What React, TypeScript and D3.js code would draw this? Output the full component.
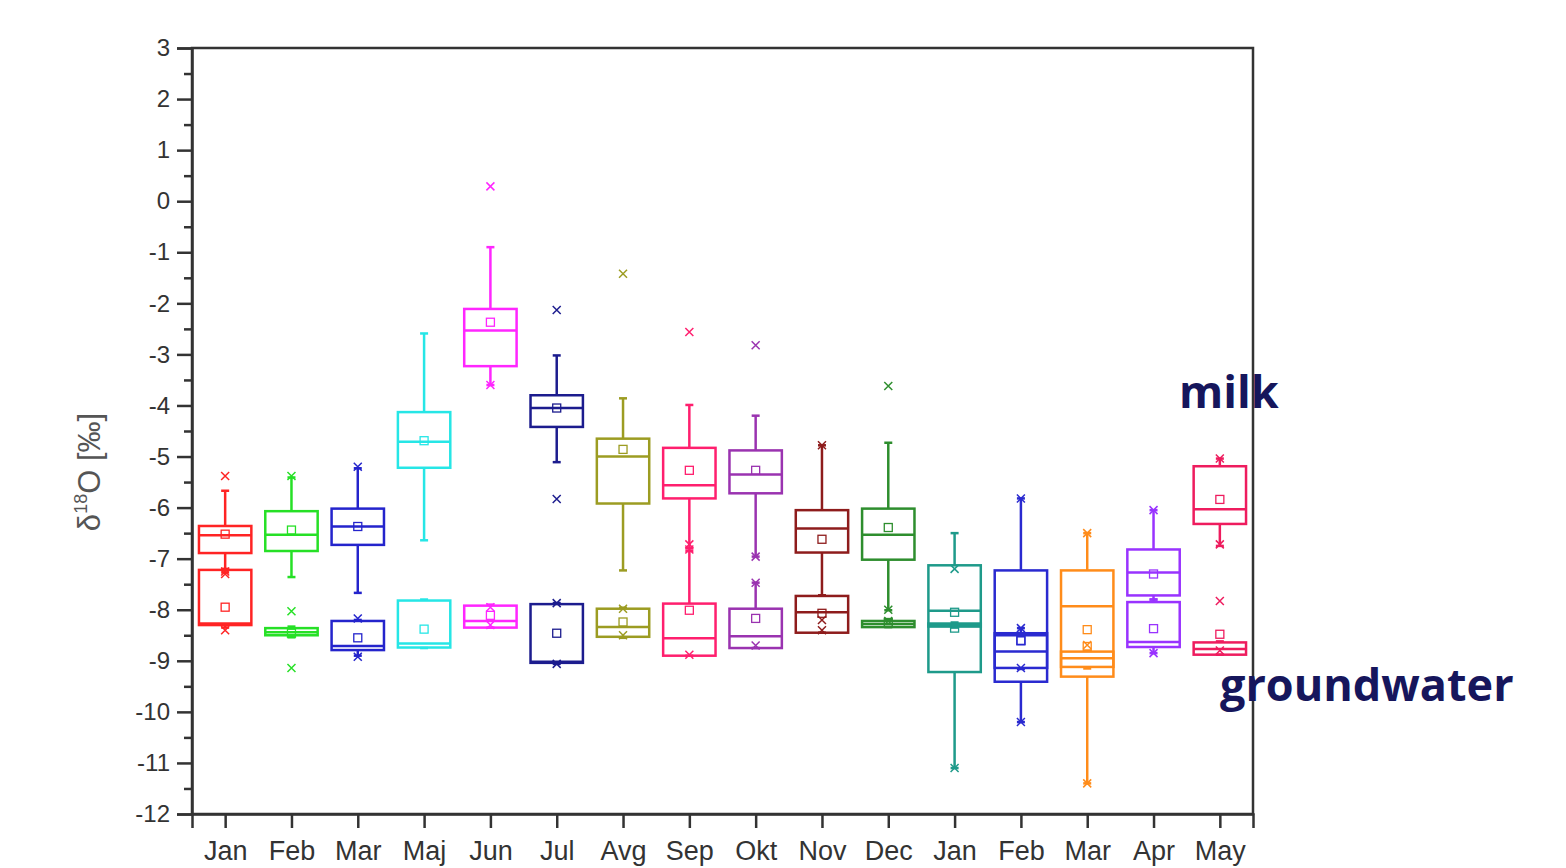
import React, { useEffect, useRef } from "react";
import * as d3 from "d3";

// month labels along the x axis (two seasons)
const months = ["Jan", "Feb", "Mar", "Maj", "Jun", "Jul", "Avg", "Sep", "Okt", "Nov", "Dec", "Jan", "Feb", "Mar", "Apr", "May"];
const colors = ["#ff2424", "#26e026", "#2424cc", "#26e6e6", "#ff26ff", "#1c1c8e", "#9c9c22", "#ff1f6e", "#9a33b0", "#8e1c1c", "#2e8e2e", "#1e9a8a", "#2a2ad0", "#ff8c1a", "#9933ff", "#ee1c5e"];

// milk boxes
const milkLow = [-7.27, -7.36, -7.67, -6.64, -3.6, -5.11, -7.23, -6.8, -6.96, -7.72, -8.01, -11.1, -10.2, -11.4, -7.8, -6.75];
const milkQ1 = [-6.89, -6.85, -6.73, -5.22, -3.23, -4.42, -5.92, -5.82, -5.72, -6.88, -7.02, -9.22, -9.41, -9.31, -7.72, -6.32];
const milkMed = [-6.54, -6.53, -6.37, -4.71, -2.53, -4.05, -5.0, -5.56, -5.35, -6.41, -6.53, -8.02, -8.5, -7.93, -7.27, -6.03];
const milkQ3 = [-6.36, -6.07, -6.02, -4.13, -2.11, -3.8, -4.65, -4.83, -4.88, -6.05, -6.02, -7.13, -7.23, -7.23, -6.82, -5.19];
const milkHigh = [-5.67, -5.41, -5.23, -2.59, -0.9, -3.02, -3.86, -3.99, -4.2, -4.78, -4.73, -6.5, -5.82, -6.5, -6.05, -5.04];
const milkMean = [-6.52, -6.44, -6.37, -4.69, -2.37, -4.05, -4.86, -5.27, -5.27, -6.62, -6.39, -8.05, -8.61, -8.39, -7.3, -5.84];
const milkCross = [[-5.38, -7.25], [-5.38], [-5.2], [], [0.29, -3.6], [-2.13, -5.83], [-1.42], [-2.56, -6.72, -6.82], [-2.82, -6.96], [-4.78], [-3.62, -8.0], [-7.2, -11.1], [-5.82, -10.2], [-6.5, -11.4], [-6.05], [-5.04, -6.72, -7.83]];

// groundwater boxes
const gwLow = [-8.35, -8.54, -8.9, -8.75, -8.35, -9.06, -8.55, -8.9, -8.75, -8.45, -8.34, -8.35, -9.16, -9.15, -8.85, -8.88];
const gwQ1 = [-8.3, -8.5, -8.79, -8.74, -8.35, -9.04, -8.53, -8.9, -8.75, -8.45, -8.34, -8.33, -9.14, -9.12, -8.73, -8.88];
const gwMed = [-8.27, -8.44, -8.71, -8.66, -8.22, -9.02, -8.34, -8.56, -8.52, -8.05, -8.28, -8.3, -8.82, -8.95, -8.63, -8.77];
const gwQ3 = [-7.22, -8.36, -8.22, -7.82, -7.92, -7.89, -7.98, -7.88, -7.98, -7.73, -8.22, -8.27, -8.46, -8.82, -7.85, -8.64];
const gwHigh = [-7.2, -8.33, -8.2, -7.8, -7.9, -7.87, -7.96, -6.85, -7.47, -7.72, -8.2, -8.25, -8.36, -8.8, -7.8, -8.62];
const gwMean = [-7.95, -8.46, -8.55, -8.38, -8.11, -8.46, -8.24, -8.01, -8.17, -8.07, -8.25, -8.36, -8.6, -8.72, -8.37, -8.48];
const gwCross = [[-7.3, -8.4], [-8.03, -9.14], [-8.17, -8.92], [], [-7.95, -8.3], [-7.87, -9.06], [-7.98, -8.5], [-8.88], [-7.47, -8.7], [-8.2, -8.4], [-8.22], [], [-8.36, -9.14], [-8.69], [-8.85], [-8.8]];

const yTicks = d3.range(-12, 4, 1);

const App = () => {
  const svgRef = useRef<SVGSVGElement>(null);

  useEffect(() => {
    const svg = d3.select(svgRef.current);
    svg.selectAll("*").remove();

    const left = 192, right = 1253, top = 48, bottom = 814;

    const x = d3.scalePoint<number>()
      .domain(d3.range(months.length))
      .range([left, right])
      .padding(0.5);
    const y = d3.scaleLinear().domain([-12, 3]).range([bottom, top]);
    const bw = x.step() * 0.79;

    const font = "'Liberation Sans', Arial, sans-serif";

    // frame
    svg.append("rect")
      .attr("x", left).attr("y", top)
      .attr("width", right - left).attr("height", bottom - top)
      .attr("fill", "none").attr("stroke", "#333").attr("stroke-width", 2.5);

    // y axis (plain hyphen minus like the original)
    const yAxis = svg.append("g")
      .attr("transform", `translate(${left},0)`)
      .call(d3.axisLeft(y).tickValues(yTicks).tickSize(15).tickPadding(7).tickFormat((d) => `${d}`));
    yAxis.select(".domain").attr("stroke", "#333").attr("stroke-width", 2.5);
    yAxis.selectAll(".tick line").attr("stroke", "#333").attr("stroke-width", 2.5);
    yAxis.selectAll(".tick text").attr("font-family", font).attr("font-size", 24).attr("fill", "#333");

    const yMinor = svg.append("g")
      .attr("transform", `translate(${left},0)`)
      .call(d3.axisLeft(y).tickValues(d3.range(-11.5, 3, 1)).tickSize(8).tickFormat(() => ""));
    yMinor.select(".domain").remove();
    yMinor.selectAll(".tick line").attr("stroke", "#333").attr("stroke-width", 2.5);

    // x axis
    const xAxis = svg.append("g")
      .attr("transform", `translate(0,${bottom})`)
      .call(d3.axisBottom(x).tickSize(14).tickPadding(13).tickFormat((i) => months[i]));
    xAxis.select(".domain").attr("stroke", "#333").attr("stroke-width", 2.5);
    xAxis.selectAll(".tick line").attr("stroke", "#333").attr("stroke-width", 2.5);
    xAxis.selectAll(".tick text").attr("font-family", font).attr("font-size", 27).attr("fill", "#333");

    // y label
    const yl = svg.append("text")
      .attr("transform", "translate(100,472) rotate(-90)")
      .attr("text-anchor", "middle")
      .attr("font-family", font).attr("font-size", 31).attr("fill", "#555");
    yl.append("tspan").text("δ");
    yl.append("tspan").attr("font-size", 18).attr("dy", -13).text("18");
    yl.append("tspan").attr("dy", 13).text("O [‰]");

    const drawBox = (i, lo, q1, med, q3, hi, mean, crosses) => {
      const cx = x(i);
      const c = colors[i];
      const g = svg.append("g").attr("stroke", c).attr("fill", "none");
      // whiskers
      g.append("line").attr("x1", cx).attr("x2", cx).attr("y1", y(hi)).attr("y2", y(q3)).attr("stroke-width", 2.5);
      g.append("line").attr("x1", cx).attr("x2", cx).attr("y1", y(q1)).attr("y2", y(lo)).attr("stroke-width", 2.5);
      [lo, hi].forEach((v) => {
        g.append("line").attr("x1", cx - 4).attr("x2", cx + 4).attr("y1", y(v)).attr("y2", y(v)).attr("stroke-width", 2.5);
      });
      g.append("rect")
        .attr("x", cx - bw / 2).attr("y", y(q3))
        .attr("width", bw).attr("height", Math.max(1, y(q1) - y(q3)))
        .attr("stroke-width", 2.5);
      g.append("line").attr("x1", cx - bw / 2).attr("x2", cx + bw / 2).attr("y1", y(med)).attr("y2", y(med)).attr("stroke-width", 2.5);
      g.append("rect").attr("x", cx - 4).attr("y", y(mean) - 4).attr("width", 8).attr("height", 8).attr("stroke-width", 1.3);
      crosses.forEach((v) => {
        const cy = y(v);
        g.append("path")
          .attr("d", `M${cx - 4},${cy - 4}L${cx + 4},${cy + 4}M${cx - 4},${cy + 4}L${cx + 4},${cy - 4}`)
          .attr("stroke-width", 1.5);
      });
    };

    months.forEach((_, i) => {
      drawBox(i, gwLow[i], gwQ1[i], gwMed[i], gwQ3[i], gwHigh[i], gwMean[i], gwCross[i]);
      drawBox(i, milkLow[i], milkQ1[i], milkMed[i], milkQ3[i], milkHigh[i], milkMean[i], milkCross[i]);
    });

    // annotations
    const labelFont = "'Open Sans', Lato, sans-serif";
    svg.append("text")
      .attr("x", 1179).attr("y", 408)
      .attr("font-family", labelFont).attr("font-weight", 700)
      .attr("font-size", 45).attr("fill", "#16165c")
      .text("milk");
    svg.append("text")
      .attr("x", 1220).attr("y", 701)
      .attr("font-family", labelFont).attr("font-weight", 700)
      .attr("font-size", 45).attr("fill", "#16165c")
      .text("groundwater");
  }, []);

  return (
    <svg
      ref={svgRef}
      width={1566}
      height={868}
      style={{ position: "absolute", left: 0, top: 0, background: "#fff" }}
    ></svg>
  );
};

export default App;
